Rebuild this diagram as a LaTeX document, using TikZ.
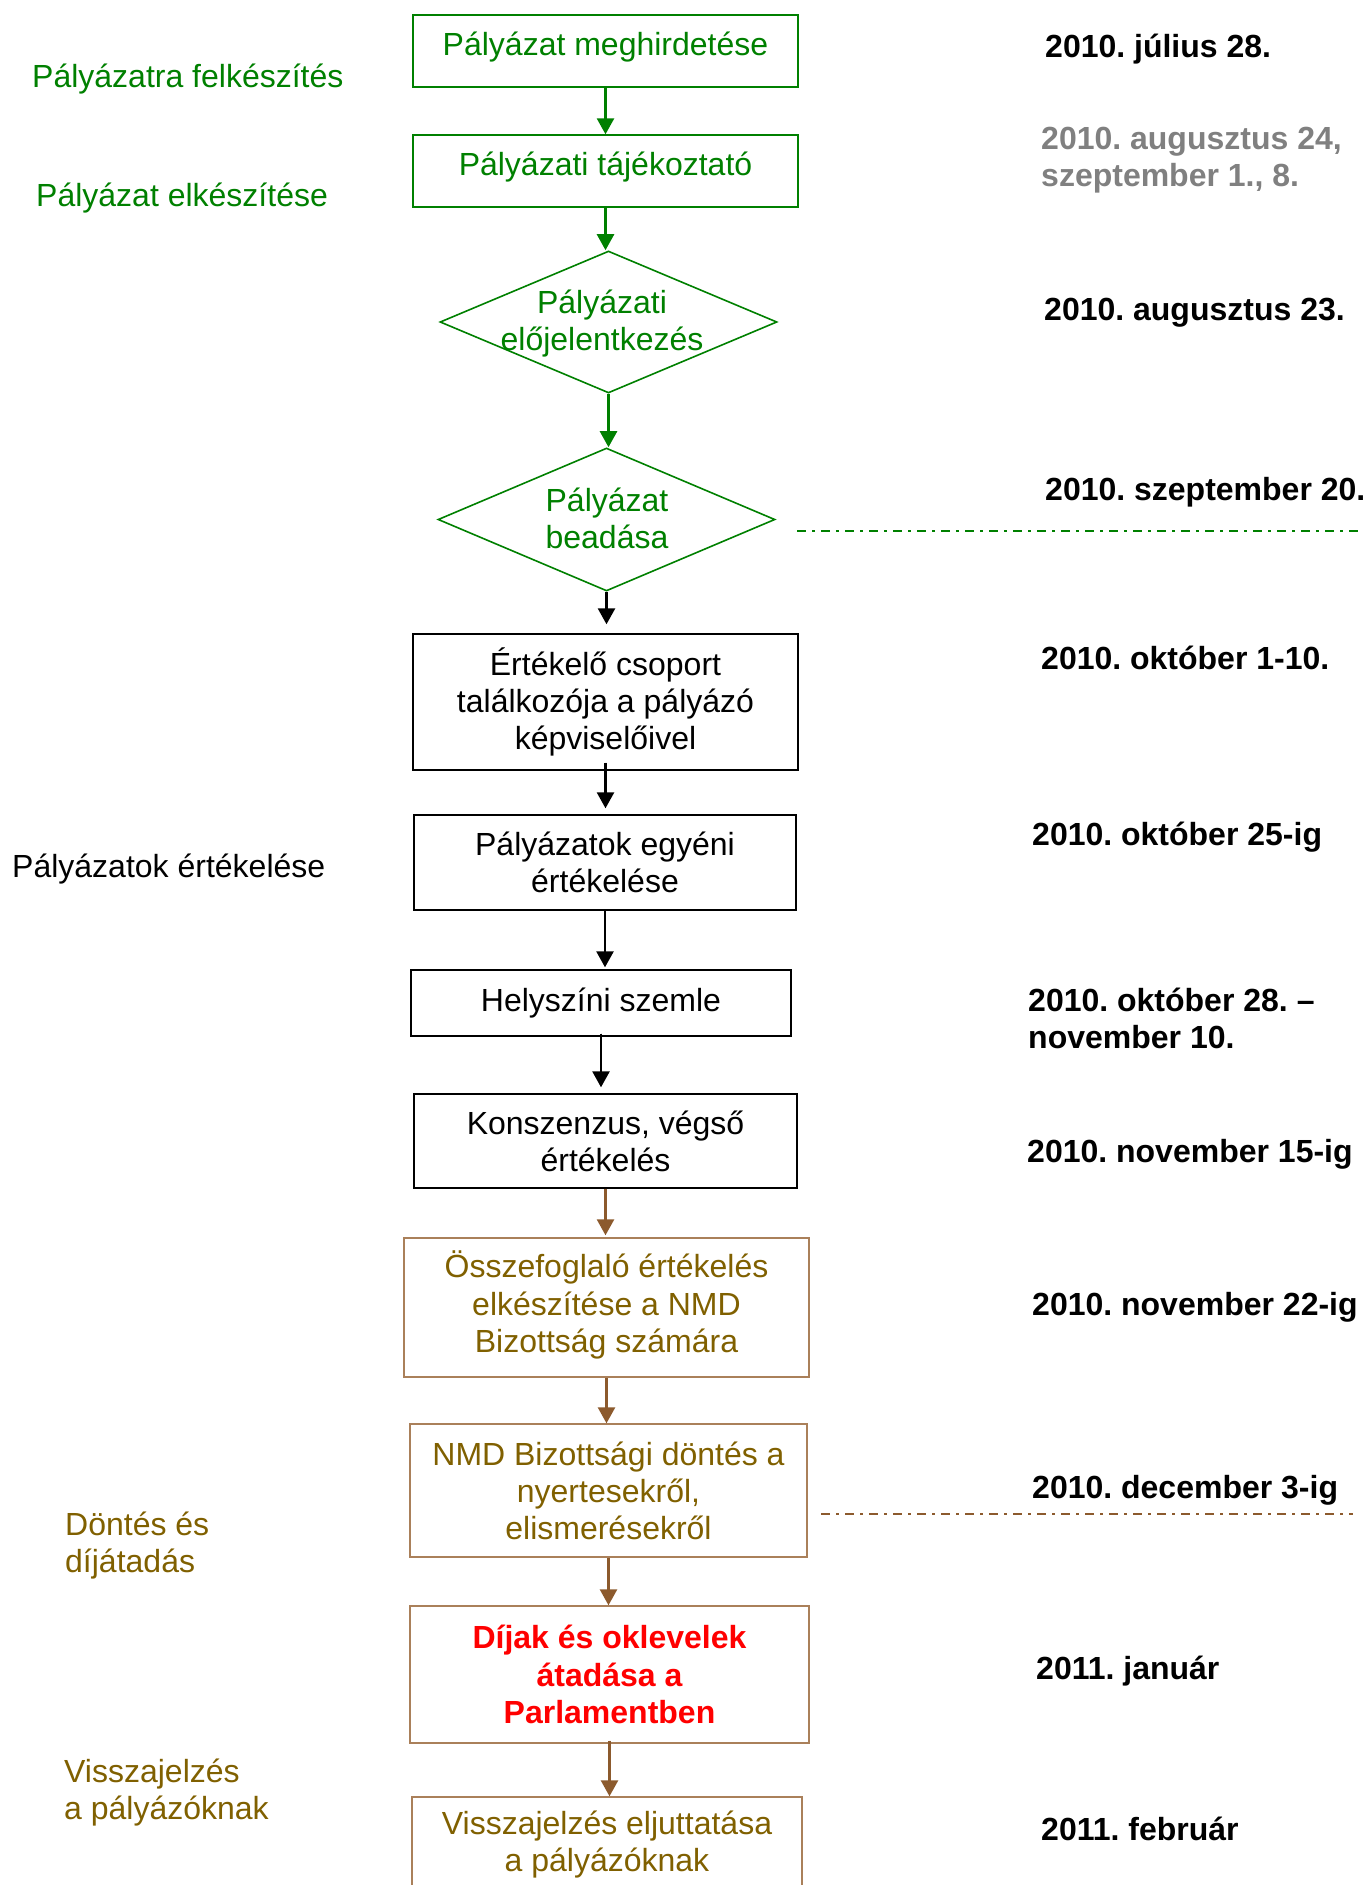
\documentclass[tikz,border=0pt]{standalone}
\usepackage{fontspec}
\setmainfont{Liberation Sans}
\usetikzlibrary{arrows.meta,shapes.geometric}
\definecolor{grn}{RGB}{0,128,0}
\definecolor{brtext}{RGB}{128,96,0}
\definecolor{brline}{RGB}{170,128,90}
\definecolor{brarrow}{RGB}{140,90,45}
\definecolor{grayd}{RGB}{128,128,128}
\definecolor{redt}{RGB}{255,0,0}
\frenchspacing
\begin{document}
\begin{tikzpicture}[x=1pt,y=-1pt,
  font=\fontsize{32}{37}\selectfont,
  box/.style={draw, line width=1.4pt, inner sep=0pt, align=center},
  gbox/.style={box, draw=grn, text=grn},
  kbox/.style={box, draw=black, text=black},
  bbox/.style={box, draw=brline, text=brtext},
  dia/.style={diamond, draw=grn, line width=1.6pt, inner sep=0pt},
  arr/.style={line width=2.6pt, -{Triangle[width=17pt,length=16pt]}},
  garr/.style={arr, draw=grn, fill=grn},
  karr/.style={arr, draw=black, fill=black},
  barr/.style={arr, draw=brarrow, fill=brarrow},
  lbl/.style={anchor=west, align=left, inner sep=0pt, yshift=-3pt},
  date/.style={anchor=west, align=left, inner sep=0pt, yshift=-3pt, font=\fontsize{32}{37}\selectfont\bfseries},
  sep/.style={line width=2pt, dash pattern=on 9pt off 6pt on 3pt off 6pt}
]
\useasboundingbox (0,0) rectangle (1367,1885);
\clip (0,0) rectangle (1367,1885);

% main flow
\node[gbox, minimum width=385pt, minimum height=72pt] (b1) at (605.5,51) {\raisebox{-4pt}[0pt][0pt]{Pályázat meghirdetése}};
\node[gbox, minimum width=385pt, minimum height=72pt] (b2) at (605.5,171) {\raisebox{-4pt}[0pt][0pt]{Pályázati tájékoztató}};
\node[dia, minimum width=337pt, minimum height=142pt] (d1) at (608.5,322) {};
\node[text=grn, align=center, inner sep=0pt] (d1t) at (602,324) {Pályázati\\előjelentkezés};
\node[dia, minimum width=337pt, minimum height=143pt] (d2) at (606.5,519.5) {};
\node[text=grn, align=center, inner sep=0pt] (d2t) at (607,518) {Pályázat\\beadása};
\node[kbox, minimum width=385pt, minimum height=136pt] (b3) at (605.5,702) {Értékelő csoport\\találkozója a pályázó\\képviselőivel};
\node[kbox, minimum width=382pt, minimum height=95pt] (b4) at (605,862.5) {Pályázatok egyéni\\értékelése};
\node[kbox, minimum width=380pt, minimum height=66pt] (b5) at (601,1003) {Helyszíni szemle};
\node[kbox, minimum width=383pt, minimum height=94pt] (b6) at (605.5,1141) {Konszenzus, végső\\értékelés};
\node[bbox, minimum width=405pt, minimum height=139pt] (b7) at (606.5,1307.5) {\raisebox{2pt}{\begin{tabular}{@{}c@{}}Összefoglaló értékelés\\[0.5pt]elkészítése a NMD\\[0.5pt]Bizottság számára\end{tabular}}};
\node[bbox, minimum width=397pt, minimum height=133pt] (b8) at (608.5,1490.5) {NMD Bizottsági döntés a\\nyertesekről,\\elismerésekről};
\node[bbox, text=redt, font=\fontsize{32}{37.5}\selectfont\bfseries, minimum width=399pt, minimum height=137pt] (b9) at (609.5,1674.5) {Díjak és oklevelek\\átadása a\\Parlamentben};
\node[bbox, minimum width=390pt, minimum height=96pt] (b10) at (607,1845) {Visszajelzés eljuttatása\\a pályázóknak};

% connectors
\draw[garr] (b1.south) -- (b1.south |- b2.north);
\draw[garr] (b2.south) -- (b2.south |- d1.north);
\draw[garr] (d1.south) -- (d1.south |- d2.north);
\draw[karr, shorten >=9pt] (d2.south) -- (d2.south |- b3.north);
\draw[karr, shorten <=-8pt, shorten >=6pt] (b3.south) -- (b3.south |- b4.north);
\draw[karr, shorten >=2pt] (b4.south) -- (b4.south |- b5.north);
\draw[karr, shorten <=-3pt, shorten >=6pt] (b5.south) -- (b5.south |- b6.north);
\draw[barr, shorten >=2pt] (b6.south) -- (b6.south |- b7.north);
\draw[barr] (b7.south) -- (b7.south |- b8.north);
\draw[barr] (b8.south) -- (b8.south |- b9.north);
\draw[barr, shorten <=-3pt] (b9.south) -- (b9.south |- b10.north);

% separators
\coordinate (s1a) at (797,531);
\coordinate (s1b) at (1362,531);
\coordinate (s2a) at (821,1514);
\coordinate (s2b) at (1353,1514);
\draw[sep, draw=grn] (s1a) -- (s1b);
\draw[sep, draw=brarrow] (s2a) -- (s2b);

% left labels
\node[lbl, text=grn] (l1) at (32,76) {Pályázatra felkészítés};
\node[lbl, text=grn] (l2) at (36,195) {Pályázat elkészítése};
\node[lbl, text=black] (l3) at (12,866) {Pályázatok értékelése};
\node[lbl, text=brtext] (l4) at (65,1543) {Döntés és\\díjátadás};
\node[lbl, text=brtext] (l5) at (64,1790) {Visszajelzés\\a pályázóknak};

% dates
\node[date] (t1) at (1045,46) {2010. július 28.};
\node[date, text=grayd] (t2) at (1041,157) {2010. augusztus 24,\\szeptember 1., 8.};
\node[date] (t3) at (1044,310) {2010. augusztus 23.};
\node[date] (t4) at (1045,489) {2010. szeptember 20.};
\node[date] (t5) at (1041,655) {2010. október 1-10.};
\node[date] (t6) at (1032,834) {2010. október 25-ig};
\node[date] (t7) at (1028,1015) {2010. október 28. –\\november 10.};
\node[date] (t8) at (1027,1151) {2010. november 15-ig};
\node[date] (t9) at (1032,1304) {2010. november 22-ig};
\node[date] (t10) at (1032,1487) {2010. december 3-ig};
\node[date] (t11) at (1036,1668) {2011. január};
\node[date] (t12) at (1041,1826) {2011. február};
\end{tikzpicture}
\end{document}
